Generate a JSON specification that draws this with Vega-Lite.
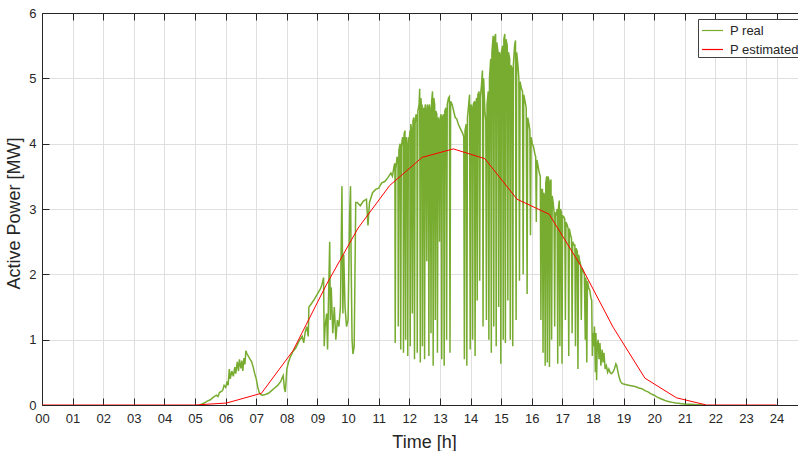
{
  "$schema": "https://vega.github.io/schema/vega-lite/v6.json",
  "width": 756,
  "height": 392,
  "autosize": {"type": "none"},
  "padding": {"left": 42, "top": 13, "right": 0, "bottom": 46},
  "datasets": {
    "real": [
      {"t": 5.15, "p": 0}, {"t": 5.2, "p": 0.01}, {"t": 5.3, "p": 0.03}, {"t": 5.4, "p": 0.06},
      {"t": 5.5, "p": 0.08}, {"t": 5.6, "p": 0.12}, {"t": 5.7, "p": 0.15}, {"t": 5.75, "p": 0.13},
      {"t": 5.8, "p": 0.19}, {"t": 5.9, "p": 0.22}, {"t": 5.95, "p": 0.3}, {"t": 6.0, "p": 0.27},
      {"t": 6.05, "p": 0.36}, {"t": 6.08, "p": 0.3}, {"t": 6.12, "p": 0.55}, {"t": 6.15, "p": 0.4},
      {"t": 6.2, "p": 0.52}, {"t": 6.25, "p": 0.44}, {"t": 6.3, "p": 0.58}, {"t": 6.33, "p": 0.48},
      {"t": 6.38, "p": 0.66}, {"t": 6.42, "p": 0.52}, {"t": 6.45, "p": 0.7}, {"t": 6.5, "p": 0.56},
      {"t": 6.53, "p": 0.68}, {"t": 6.56, "p": 0.52}, {"t": 6.6, "p": 0.72}, {"t": 6.63, "p": 0.62},
      {"t": 6.66, "p": 0.83}, {"t": 6.7, "p": 0.78}, {"t": 6.75, "p": 0.74}, {"t": 6.8, "p": 0.7},
      {"t": 6.85, "p": 0.66}, {"t": 6.9, "p": 0.58}, {"t": 6.95, "p": 0.48}, {"t": 7.0, "p": 0.4},
      {"t": 7.05, "p": 0.27}, {"t": 7.1, "p": 0.19}, {"t": 7.15, "p": 0.16}, {"t": 7.2, "p": 0.15},
      {"t": 7.3, "p": 0.16}, {"t": 7.4, "p": 0.18}, {"t": 7.5, "p": 0.22}, {"t": 7.6, "p": 0.26},
      {"t": 7.7, "p": 0.3}, {"t": 7.8, "p": 0.36}, {"t": 7.85, "p": 0.42}, {"t": 7.88, "p": 0.45},
      {"t": 7.92, "p": 0.25}, {"t": 7.95, "p": 0.2}, {"t": 8.0, "p": 0.55}, {"t": 8.05, "p": 0.65},
      {"t": 8.1, "p": 0.72}, {"t": 8.2, "p": 0.82}, {"t": 8.3, "p": 0.88}, {"t": 8.4, "p": 0.98},
      {"t": 8.5, "p": 1.05}, {"t": 8.55, "p": 0.95}, {"t": 8.6, "p": 1.12}, {"t": 8.65, "p": 1.2},
      {"t": 8.7, "p": 1.05}, {"t": 8.72, "p": 1.5}, {"t": 8.8, "p": 1.55}, {"t": 8.9, "p": 1.62},
      {"t": 9.0, "p": 1.7}, {"t": 9.1, "p": 1.78}, {"t": 9.15, "p": 1.85}, {"t": 9.2, "p": 1.95},
      {"t": 9.22, "p": 0.9}, {"t": 9.25, "p": 1.2}, {"t": 9.3, "p": 1.4}, {"t": 9.33, "p": 0.85},
      {"t": 9.36, "p": 1.6}, {"t": 9.4, "p": 2.5}, {"t": 9.42, "p": 1.3}, {"t": 9.45, "p": 1.8},
      {"t": 9.5, "p": 1.1}, {"t": 9.55, "p": 1.5}, {"t": 9.6, "p": 1.0}, {"t": 9.65, "p": 1.3},
      {"t": 9.7, "p": 1.2}, {"t": 9.75, "p": 1.5}, {"t": 9.8, "p": 3.35}, {"t": 9.83, "p": 1.4},
      {"t": 9.86, "p": 2.3}, {"t": 9.9, "p": 1.5}, {"t": 9.95, "p": 1.2}, {"t": 10.0, "p": 1.3},
      {"t": 10.05, "p": 2.9}, {"t": 10.08, "p": 3.35}, {"t": 10.1, "p": 2.2}, {"t": 10.13, "p": 1.0},
      {"t": 10.16, "p": 0.78}, {"t": 10.2, "p": 0.9}, {"t": 10.25, "p": 3.1}, {"t": 10.3, "p": 3.1},
      {"t": 10.4, "p": 3.05}, {"t": 10.5, "p": 3.12}, {"t": 10.6, "p": 3.15}, {"t": 10.65, "p": 2.75},
      {"t": 10.7, "p": 3.1}, {"t": 10.8, "p": 3.25}, {"t": 10.9, "p": 3.3}, {"t": 11.0, "p": 3.32},
      {"t": 11.1, "p": 3.4}, {"t": 11.2, "p": 3.42}, {"t": 11.3, "p": 3.48}, {"t": 11.4, "p": 3.55},
      {"t": 11.45, "p": 3.5}, {"t": 11.5, "p": 3.65},
      {"t": 11.53, "p": 3.7}, {"t": 11.54, "p": 0.95}, {"t": 11.56, "p": 3.6}, {"t": 11.6, "p": 3.8},
      {"t": 11.63, "p": 3.75}, {"t": 11.64, "p": 1.2}, {"t": 11.66, "p": 3.9}, {"t": 11.7, "p": 4.0},
      {"t": 11.72, "p": 0.85}, {"t": 11.74, "p": 3.95}, {"t": 11.78, "p": 4.1}, {"t": 11.8, "p": 4.05},
      {"t": 11.81, "p": 0.8}, {"t": 11.83, "p": 4.15}, {"t": 11.86, "p": 4.2}, {"t": 11.88, "p": 1.0},
      {"t": 11.9, "p": 4.1}, {"t": 11.94, "p": 3.9}, {"t": 11.95, "p": 0.75}, {"t": 11.97, "p": 4.1},
      {"t": 12.0, "p": 4.05}, {"t": 12.02, "p": 4.2}, {"t": 12.03, "p": 0.9}, {"t": 12.05, "p": 4.3},
      {"t": 12.08, "p": 4.2}, {"t": 12.1, "p": 1.4}, {"t": 12.12, "p": 4.35}, {"t": 12.15, "p": 4.4},
      {"t": 12.17, "p": 0.7}, {"t": 12.19, "p": 4.3}, {"t": 12.22, "p": 4.45}, {"t": 12.25, "p": 4.4},
      {"t": 12.26, "p": 0.8}, {"t": 12.28, "p": 4.5}, {"t": 12.32, "p": 4.6}, {"t": 12.34, "p": 4.84},
      {"t": 12.36, "p": 0.65}, {"t": 12.38, "p": 4.7}, {"t": 12.4, "p": 4.55}, {"t": 12.42, "p": 4.6},
      {"t": 12.43, "p": 0.9}, {"t": 12.45, "p": 4.5}, {"t": 12.48, "p": 4.55}, {"t": 12.5, "p": 0.7},
      {"t": 12.52, "p": 4.6}, {"t": 12.55, "p": 4.5}, {"t": 12.57, "p": 2.2}, {"t": 12.59, "p": 4.6},
      {"t": 12.62, "p": 4.55}, {"t": 12.64, "p": 0.75}, {"t": 12.66, "p": 4.6}, {"t": 12.69, "p": 4.5},
      {"t": 12.71, "p": 1.1}, {"t": 12.73, "p": 4.65}, {"t": 12.76, "p": 4.8}, {"t": 12.78, "p": 0.6},
      {"t": 12.8, "p": 4.7}, {"t": 12.83, "p": 4.6}, {"t": 12.85, "p": 1.3}, {"t": 12.87, "p": 4.5},
      {"t": 12.9, "p": 4.45}, {"t": 12.92, "p": 0.8}, {"t": 12.94, "p": 4.4}, {"t": 12.97, "p": 4.35},
      {"t": 12.99, "p": 2.5}, {"t": 13.01, "p": 4.4}, {"t": 13.04, "p": 4.45}, {"t": 13.06, "p": 0.7},
      {"t": 13.08, "p": 4.4}, {"t": 13.12, "p": 4.45}, {"t": 13.14, "p": 0.6}, {"t": 13.16, "p": 4.5},
      {"t": 13.2, "p": 4.55}, {"t": 13.22, "p": 1.0}, {"t": 13.24, "p": 4.6}, {"t": 13.28, "p": 4.7},
      {"t": 13.31, "p": 4.72}, {"t": 13.33, "p": 0.8}, {"t": 13.35, "p": 4.65}, {"t": 13.4, "p": 4.6},
      {"t": 13.45, "p": 4.5}, {"t": 13.5, "p": 4.4}, {"t": 13.55, "p": 4.38}, {"t": 13.6, "p": 4.3},
      {"t": 13.65, "p": 4.25}, {"t": 13.7, "p": 4.2}, {"t": 13.75, "p": 4.15}, {"t": 13.78, "p": 4.1},
      {"t": 13.8, "p": 0.7}, {"t": 13.82, "p": 4.2}, {"t": 13.86, "p": 4.3}, {"t": 13.88, "p": 0.6},
      {"t": 13.9, "p": 4.4}, {"t": 13.94, "p": 4.6}, {"t": 13.97, "p": 4.75}, {"t": 13.99, "p": 0.85},
      {"t": 14.01, "p": 4.6}, {"t": 14.05, "p": 4.55}, {"t": 14.07, "p": 1.0}, {"t": 14.09, "p": 4.6},
      {"t": 14.13, "p": 4.65}, {"t": 14.15, "p": 0.75}, {"t": 14.17, "p": 4.6}, {"t": 14.2, "p": 4.7},
      {"t": 14.22, "p": 1.6}, {"t": 14.24, "p": 4.75}, {"t": 14.28, "p": 4.8}, {"t": 14.3, "p": 1.9},
      {"t": 14.32, "p": 4.7}, {"t": 14.36, "p": 4.9}, {"t": 14.39, "p": 5.12}, {"t": 14.41, "p": 1.2},
      {"t": 14.43, "p": 5.0}, {"t": 14.47, "p": 4.5}, {"t": 14.5, "p": 4.35}, {"t": 14.52, "p": 1.3},
      {"t": 14.54, "p": 4.6}, {"t": 14.58, "p": 4.8}, {"t": 14.6, "p": 1.0}, {"t": 14.62, "p": 5.0},
      {"t": 14.66, "p": 5.3}, {"t": 14.68, "p": 0.8}, {"t": 14.7, "p": 5.4}, {"t": 14.74, "p": 5.65},
      {"t": 14.76, "p": 1.2}, {"t": 14.78, "p": 5.6}, {"t": 14.82, "p": 5.68}, {"t": 14.84, "p": 0.9},
      {"t": 14.86, "p": 5.55}, {"t": 14.9, "p": 5.4}, {"t": 14.92, "p": 1.5}, {"t": 14.94, "p": 5.4},
      {"t": 14.97, "p": 5.35}, {"t": 14.99, "p": 0.63}, {"t": 15.01, "p": 5.4}, {"t": 15.05, "p": 5.5},
      {"t": 15.07, "p": 1.0}, {"t": 15.09, "p": 5.6}, {"t": 15.12, "p": 5.68}, {"t": 15.14, "p": 0.95},
      {"t": 15.16, "p": 5.6}, {"t": 15.2, "p": 5.5}, {"t": 15.22, "p": 1.6}, {"t": 15.24, "p": 5.4},
      {"t": 15.28, "p": 5.3}, {"t": 15.3, "p": 1.0}, {"t": 15.32, "p": 5.2}, {"t": 15.36, "p": 5.15},
      {"t": 15.38, "p": 0.9}, {"t": 15.4, "p": 5.2}, {"t": 15.44, "p": 5.5}, {"t": 15.47, "p": 5.58},
      {"t": 15.49, "p": 1.3}, {"t": 15.51, "p": 5.4}, {"t": 15.55, "p": 5.2}, {"t": 15.58, "p": 5.0},
      {"t": 15.6, "p": 1.9}, {"t": 15.62, "p": 4.95}, {"t": 15.66, "p": 4.85}, {"t": 15.7, "p": 4.8},
      {"t": 15.72, "p": 2.0}, {"t": 15.74, "p": 4.75}, {"t": 15.78, "p": 4.65}, {"t": 15.82, "p": 4.55},
      {"t": 15.85, "p": 1.7}, {"t": 15.87, "p": 4.4}, {"t": 15.91, "p": 4.3}, {"t": 15.94, "p": 4.2},
      {"t": 15.96, "p": 2.6}, {"t": 15.98, "p": 4.1}, {"t": 16.02, "p": 4.0}, {"t": 16.06, "p": 3.95},
      {"t": 16.1, "p": 3.85}, {"t": 16.13, "p": 3.8}, {"t": 16.15, "p": 2.8}, {"t": 16.17, "p": 3.75},
      {"t": 16.21, "p": 3.65}, {"t": 16.25, "p": 3.55}, {"t": 16.28, "p": 3.5}, {"t": 16.3, "p": 1.3},
      {"t": 16.32, "p": 3.3}, {"t": 16.35, "p": 3.3}, {"t": 16.37, "p": 0.8}, {"t": 16.39, "p": 3.25},
      {"t": 16.42, "p": 3.2}, {"t": 16.44, "p": 0.6}, {"t": 16.46, "p": 3.4}, {"t": 16.49, "p": 3.5},
      {"t": 16.51, "p": 0.65}, {"t": 16.53, "p": 3.5}, {"t": 16.56, "p": 3.45}, {"t": 16.58, "p": 0.58},
      {"t": 16.6, "p": 3.4}, {"t": 16.63, "p": 3.45}, {"t": 16.65, "p": 1.0}, {"t": 16.67, "p": 3.2},
      {"t": 16.7, "p": 3.1}, {"t": 16.73, "p": 2.95}, {"t": 16.75, "p": 1.2}, {"t": 16.77, "p": 2.95},
      {"t": 16.8, "p": 2.9}, {"t": 16.83, "p": 3.0}, {"t": 16.85, "p": 0.63}, {"t": 16.87, "p": 3.0},
      {"t": 16.9, "p": 3.13}, {"t": 16.92, "p": 0.9}, {"t": 16.94, "p": 3.0}, {"t": 16.97, "p": 2.95},
      {"t": 16.99, "p": 0.63}, {"t": 17.01, "p": 2.9}, {"t": 17.05, "p": 2.88}, {"t": 17.08, "p": 2.85},
      {"t": 17.1, "p": 1.3}, {"t": 17.12, "p": 2.8}, {"t": 17.16, "p": 2.75}, {"t": 17.19, "p": 2.7},
      {"t": 17.21, "p": 0.75}, {"t": 17.23, "p": 2.7}, {"t": 17.27, "p": 2.6}, {"t": 17.3, "p": 2.55},
      {"t": 17.32, "p": 1.1}, {"t": 17.34, "p": 2.5}, {"t": 17.38, "p": 2.45}, {"t": 17.41, "p": 2.45},
      {"t": 17.43, "p": 0.9}, {"t": 17.45, "p": 2.4}, {"t": 17.49, "p": 2.35}, {"t": 17.51, "p": 0.55},
      {"t": 17.53, "p": 2.3}, {"t": 17.57, "p": 2.2}, {"t": 17.6, "p": 2.15}, {"t": 17.62, "p": 1.3},
      {"t": 17.64, "p": 2.1}, {"t": 17.68, "p": 2.05}, {"t": 17.72, "p": 2.0}, {"t": 17.75, "p": 1.0},
      {"t": 17.77, "p": 1.95}, {"t": 17.8, "p": 0.65}, {"t": 17.82, "p": 1.9}, {"t": 17.86, "p": 1.8},
      {"t": 17.9, "p": 1.75}, {"t": 17.93, "p": 1.65}, {"t": 17.96, "p": 1.6}, {"t": 17.98, "p": 0.75},
      {"t": 18.0, "p": 1.1}, {"t": 18.03, "p": 0.9}, {"t": 18.05, "p": 1.2}, {"t": 18.08, "p": 0.5},
      {"t": 18.1, "p": 1.1}, {"t": 18.12, "p": 0.38}, {"t": 18.14, "p": 0.9}, {"t": 18.17, "p": 1.0},
      {"t": 18.2, "p": 0.7}, {"t": 18.23, "p": 0.95}, {"t": 18.26, "p": 0.6}, {"t": 18.3, "p": 0.85},
      {"t": 18.33, "p": 0.65}, {"t": 18.36, "p": 0.8}, {"t": 18.4, "p": 0.55}, {"t": 18.44, "p": 0.6},
      {"t": 18.48, "p": 0.5}, {"t": 18.52, "p": 0.55}, {"t": 18.56, "p": 0.5}, {"t": 18.6, "p": 0.48},
      {"t": 18.65, "p": 0.5}, {"t": 18.7, "p": 0.55}, {"t": 18.75, "p": 0.63}, {"t": 18.78, "p": 0.6},
      {"t": 18.82, "p": 0.5}, {"t": 18.86, "p": 0.42}, {"t": 18.9, "p": 0.36}, {"t": 18.95, "p": 0.33},
      {"t": 19.0, "p": 0.32}, {"t": 19.1, "p": 0.31}, {"t": 19.2, "p": 0.3}, {"t": 19.3, "p": 0.29},
      {"t": 19.4, "p": 0.28}, {"t": 19.5, "p": 0.26}, {"t": 19.6, "p": 0.25}, {"t": 19.7, "p": 0.22},
      {"t": 19.8, "p": 0.2}, {"t": 19.9, "p": 0.17}, {"t": 20.0, "p": 0.15}, {"t": 20.1, "p": 0.12},
      {"t": 20.2, "p": 0.1}, {"t": 20.3, "p": 0.08}, {"t": 20.4, "p": 0.06}, {"t": 20.5, "p": 0.05},
      {"t": 20.6, "p": 0.04}, {"t": 20.7, "p": 0.03}, {"t": 20.8, "p": 0.025}, {"t": 20.9, "p": 0.02},
      {"t": 21.0, "p": 0.015}, {"t": 21.2, "p": 0.01}, {"t": 21.4, "p": 0.005}, {"t": 21.66, "p": 0}
    ],
    "est": [
      {"t": 0, "p": 0}, {"t": 5.0, "p": 0}, {"t": 6.03, "p": 0.03}, {"t": 7.17, "p": 0.18},
      {"t": 8.2, "p": 0.83}, {"t": 9.3, "p": 1.85}, {"t": 10.33, "p": 2.71}, {"t": 11.36, "p": 3.36},
      {"t": 12.42, "p": 3.79}, {"t": 13.44, "p": 3.92}, {"t": 14.47, "p": 3.77}, {"t": 15.52, "p": 3.15},
      {"t": 16.57, "p": 2.92}, {"t": 17.63, "p": 2.11}, {"t": 18.66, "p": 1.19}, {"t": 19.7, "p": 0.41},
      {"t": 20.73, "p": 0.11}, {"t": 21.71, "p": 0}, {"t": 24, "p": 0}
    ]
  },
  "layer": [
    {
      "data": {"name": "real"},
      "mark": {"type": "line", "strokeWidth": 1.5, "clip": true},
      "encoding": {
        "x": {
          "field": "t",
          "type": "quantitative",
          "scale": {"domain": [0, 24.7], "nice": false, "zero": false},
          "axis": {
            "orient": "bottom",
            "values": [0, 1, 2, 3, 4, 5, 6, 7, 8, 9, 10, 11, 12, 13, 14, 15, 16, 17, 18, 19, 20, 21, 22, 23, 24],
            "format": "02d",
            "title": "Time [h]",
            "titleFontSize": 18,
            "titleX": 382,
            "titleY": 42,
            "titleBaseline": "alphabetic",
            "titleAlign": "center",
            "labelPadding": 14,
            "tickSize": -7,
            "grid": true
          }
        },
        "y": {
          "field": "p",
          "type": "quantitative",
          "scale": {"domain": [0, 6], "nice": false},
          "axis": {
            "values": [0, 1, 2, 3, 4, 5, 6],
            "format": "d",
            "title": "Active Power [MW]",
            "titleFontSize": 18,
            "titleX": -23,
            "titleY": 200,
            "titleAngle": -90,
            "titleBaseline": "alphabetic",
            "titleAlign": "center",
            "labelPadding": 13,
            "tickSize": -7,
            "grid": true
          }
        },
        "color": {
          "datum": "P real",
          "scale": {"domain": ["P real", "P estimated"], "range": ["#77AC30", "#FF0000"]},
          "legend": {
            "orient": "none",
            "legendX": 656,
            "legendY": 6,
            "title": null,
            "symbolType": "stroke",
            "symbolSize": 441,
            "symbolStrokeWidth": 1.2,
            "symbolOffset": 3,
            "labelFontSize": 13,
            "labelColor": "#262626",
            "labelOffset": 6,
            "rowPadding": -4,
            "padding": 0,
            "strokeColor": "#404040",
            "fillColor": "white",
            "cornerRadius": 0
          }
        }
      }
    },
    {
      "data": {"name": "est"},
      "mark": {"type": "line", "strokeWidth": 1, "clip": true},
      "encoding": {
        "x": {
          "field": "t",
          "type": "quantitative",
          "axis": {
            "orient": "top",
            "values": [0, 1, 2, 3, 4, 5, 6, 7, 8, 9, 10, 11, 12, 13, 14, 15, 16, 17, 18, 19, 20, 21, 22, 23, 24],
            "labels": false,
            "title": null,
            "tickSize": -7,
            "grid": false
          }
        },
        "y": {"field": "p", "type": "quantitative"},
        "color": {"datum": "P estimated"}
      }
    }
  ],
  "resolve": {"axis": {"x": "independent"}},
  "config": {
    "font": "Liberation Sans",
    "view": {"stroke": null},
    "axis": {
      "labelFontSize": 13,
      "labelColor": "#262626",
      "titleColor": "#262626",
      "titleFontWeight": "normal",
      "domainColor": "#262626",
      "tickColor": "#262626",
      "gridColor": "#dfdfdf",
      "labelFlush": false,
      "labelOverlap": false
    }
  }
}
